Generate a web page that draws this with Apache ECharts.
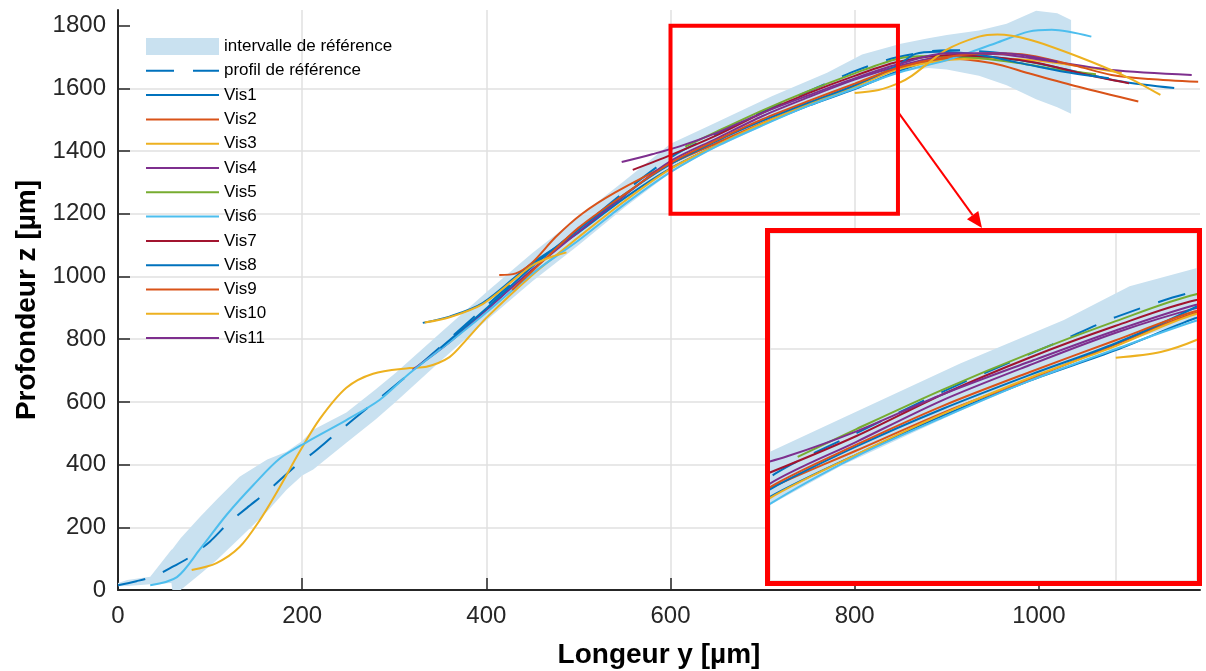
<!DOCTYPE html>
<html>
<head>
<meta charset="utf-8">
<script src="https://cdn.jsdelivr.net/npm/echarts@6/dist/echarts.min.js"></script>
<style>
html, body { margin: 0; padding: 0; background: #fff; }
#chart { width: 1206px; height: 671px; }
</style>
</head>
<body>
<div id="chart"></div>
<script>
// bande de référence (y, borne basse, borne haute)
var bandY = [0, 10, 35, 58, 59, 68, 89, 107, 132, 162, 183, 200, 212, 248, 280, 302, 350, 400, 450, 500, 550, 600, 642, 710, 770, 808, 850, 880, 900, 935, 965, 997, 1020, 1035];
var bandLow = [12, 13, 18, 22, 0, 0, 50, 95, 165, 250, 320, 365, 384, 470, 545, 601, 730, 860, 985, 1100, 1220, 1331, 1400, 1493, 1570, 1615, 1655, 1665, 1660, 1640, 1610, 1565, 1540, 1519];
var bandHigh = [22, 32, 42, 128, 130, 165, 233, 288, 361, 416, 441, 475, 511, 566, 640, 694, 820, 950, 1075, 1190, 1305, 1423, 1481, 1575, 1650, 1708, 1742, 1760, 1770, 1785, 1806, 1848, 1840, 1818];

// profil de référence
var profY = [0, 20, 40, 60, 78, 100, 118, 140, 162, 192, 212, 234, 277, 314, 350, 414, 450, 500, 550, 603, 650, 710, 769, 800, 846, 900, 950, 1000, 1035];
var profZ = [15, 28, 45, 75, 105, 155, 208, 262, 314, 393, 438, 492, 595, 684, 775, 943, 1035, 1150, 1270, 1385, 1455, 1540, 1615, 1655, 1699, 1722, 1715, 1695, 1665];

// mesures Vis1..Vis11 : [y, z]
var vis1 = [[331, 852], [360, 872], [396, 915], [450, 1043], [500, 1140], [550, 1250], [600, 1345], [650, 1418], [700, 1485], [750, 1545], [800, 1598], [846, 1653], [880, 1685], [930, 1700], [980, 1690], [1030, 1660], [1090, 1622], [1147, 1601]];
var vis2 = [[414, 1005], [432, 1010], [450, 1045], [475, 1125], [504, 1200], [540, 1268], [600, 1360], [650, 1425], [700, 1490], [750, 1548], [800, 1608], [846, 1662], [900, 1695], [950, 1680], [989, 1648], [1043, 1605], [1108, 1558]];
var vis3 = [[80, 64], [107, 86], [132, 137], [154, 223], [176, 330], [197, 440], [219, 545], [248, 645], [277, 690], [317, 708], [335, 712], [360, 743], [378, 797], [400, 868], [450, 1005], [500, 1125], [550, 1240], [600, 1343], [650, 1418], [700, 1488], [750, 1550], [800, 1605], [846, 1660], [900, 1690], [950, 1695], [1000, 1688], [1050, 1668], [1090, 1650]];
var vis4 = [[320, 702], [360, 790], [400, 893], [450, 1022], [500, 1142], [550, 1258], [600, 1368], [650, 1440], [700, 1512], [750, 1572], [800, 1628], [846, 1670], [900, 1705], [950, 1710], [1007, 1690], [1079, 1659], [1166, 1643]];
var vis5 = [[616, 1414], [650, 1462], [700, 1530], [750, 1592], [800, 1648], [846, 1694], [880, 1703], [930, 1698], [980, 1680], [1020, 1660], [1062, 1645]];
var vis6 = [[35, 15], [64, 41], [89, 130], [118, 240], [147, 335], [176, 420], [205, 472], [248, 542], [284, 606], [317, 692], [360, 790], [400, 885], [450, 1010], [500, 1115], [550, 1230], [600, 1333], [650, 1415], [700, 1482], [750, 1545], [800, 1600], [850, 1652], [900, 1690], [953, 1744], [989, 1781], [1014, 1787], [1057, 1765]];
var vis7 = [[559, 1340], [600, 1387], [650, 1450], [700, 1522], [750, 1585], [800, 1640], [846, 1684], [900, 1706], [950, 1700], [1000, 1680], [1050, 1645], [1098, 1616]];
var vis8 = [[350, 772], [400, 898], [450, 1032], [500, 1150], [550, 1262], [600, 1358], [650, 1432], [700, 1497], [750, 1555], [800, 1610], [846, 1672], [866, 1710], [890, 1717], [935, 1707], [989, 1675], [1029, 1652], [1076, 1632]];
var vis9 = [[428, 957], [460, 1045], [500, 1155], [550, 1262], [600, 1362], [650, 1435], [700, 1502], [750, 1560], [800, 1615], [846, 1665], [900, 1700], [950, 1712], [989, 1706], [1040, 1672], [1079, 1643], [1120, 1630], [1173, 1621]];
var vis10 = [[333, 853], [360, 870], [396, 912], [430, 990], [450, 1035], [470, 1062], [487, 1077], [500, '-'], [800, 1585], [826, 1595], [847, 1616], [862, 1640], [899, 1722], [935, 1765], [955, 1772], [989, 1756], [1043, 1701], [1098, 1633], [1132, 1579]];
var vis11 = [[547, 1365], [580, 1390], [610, 1415], [650, 1458], [700, 1522], [750, 1578], [800, 1632], [846, 1676], [900, 1712], [960, 1712], [1020, 1685]];

var visNames = ['Vis1', 'Vis2', 'Vis3', 'Vis4', 'Vis5', 'Vis6', 'Vis7', 'Vis8', 'Vis9', 'Vis10', 'Vis11'];
var visData = [vis1, vis2, vis3, vis4, vis5, vis6, vis7, vis8, vis9, vis10, vis11];
var visColors = ['#0072BD', '#D95319', '#EDB120', '#7E2F8E', '#77AC30', '#4DBEEE', '#A2142F', '#0072BD', '#D95319', '#EDB120', '#7E2F8E'];

// zone agrandie
var zoomY = [600, 847];
var zoomZ = [1200, 1800];

var xTicks = [0, 200, 400, 600, 800, 1000];
var yTicks = [0, 200, 400, 600, 800, 1000, 1200, 1400, 1600, 1800];

var bandColor = '#c9e1f0';
var font = "'Liberation Sans', Arial, sans-serif";
var gridColor = '#e0e0e0';

// encart
var inset = { left: 770, top: 233, width: 427, height: 348 };

// polygone de la bande, dessiné une fois avec les échelles de la grille
function renderBand(params, api) {
    if (params.dataIndex !== 0) return null;
    var pts = [];
    var i;
    for (i = 0; i < bandY.length; i++) pts.push(api.coord([bandY[i], bandHigh[i]]));
    for (i = bandY.length - 1; i >= 0; i--) pts.push(api.coord([bandY[i], bandLow[i]]));
    var cs = params.coordSys;
    return {
        type: 'polygon',
        shape: { points: pts },
        style: { fill: bandColor },
        clipPath: { type: 'rect', shape: { x: cs.x, y: cs.y, width: cs.width, height: cs.height } }
    };
}

function buildSeries(g) {
    var zBase = g === 0 ? 2 : 12;
    var list = [];
    list.push({
        name: 'intervalle de référence', type: 'custom', xAxisIndex: g, yAxisIndex: g,
        data: bandY.map(function (y, i) { return [y, bandLow[i], bandHigh[i]]; }),
        encode: { x: 0, y: [1, 2] },
        renderItem: renderBand, silent: true,
        itemStyle: { color: bandColor }, z: zBase
    });
    list.push({
        name: 'profil de référence', type: 'line', xAxisIndex: g, yAxisIndex: g,
        data: profY.map(function (y, i) { return [y, profZ[i]]; }),
        symbol: 'none', smooth: 0.3, silent: true,
        itemStyle: { color: '#0072BD' },
        lineStyle: { color: '#0072BD', width: 2, type: [28, 19] }, z: zBase + 1
    });
    for (var k = 0; k < visNames.length; k++) {
        list.push({
            name: visNames[k], type: 'line', xAxisIndex: g, yAxisIndex: g,
            data: visData[k], symbol: 'none', smooth: 0.3, silent: true,
            itemStyle: { color: visColors[k] },
            lineStyle: { color: visColors[k], width: 2 }, z: zBase + 1
        });
    }
    return list;
}

var chart = echarts.init(document.getElementById('chart'));

var legendData = [{ name: 'intervalle de référence', icon: 'rect', itemStyle: { color: bandColor, opacity: 1 } },
    { name: 'profil de référence' }].concat(visNames.map(function (n) { return { name: n }; }));

function plain(v) { return String(v); }

chart.setOption({
    animation: false,
    backgroundColor: '#fff',
    legend: {
        data: legendData,
        orient: 'vertical',
        left: 145,
        top: 38,
        padding: 0,
        itemWidth: 73,
        itemHeight: 17,
        itemGap: 7.3,
        selectedMode: false,
        itemStyle: { opacity: 0 },
        textStyle: { fontSize: 17, color: '#000', fontFamily: font }
    },
    grid: [
        { left: 118, right: 6, top: 10, bottom: 81, outerBoundsMode: 'none' },
        { left: inset.left, top: inset.top, width: inset.width, height: inset.height, outerBoundsMode: 'none' }
    ],
    xAxis: [{
        type: 'value', gridIndex: 0, min: 0, max: 1175, interval: 200,
        name: 'Longeur y [µm]', nameLocation: 'middle', nameGap: 51,
        nameTextStyle: { fontSize: 28, fontWeight: 'bold', color: '#000', fontFamily: font },
        axisLine: { show: true, onZero: false, lineStyle: { color: '#262626', width: 2 } },
        axisTick: { inside: true, length: 12, customValues: xTicks, lineStyle: { color: '#262626', width: 1.5 } },
        axisLabel: { customValues: xTicks, formatter: plain, fontSize: 24, color: '#262626', margin: 14, fontFamily: font },
        splitLine: { show: true, showMaxLine: false, lineStyle: { color: gridColor, width: 1.5 } }
    }, {
        type: 'value', gridIndex: 1, min: zoomY[0], max: zoomY[1], interval: 200, z: 11,
        axisLine: { show: false }, axisTick: { show: false }, axisLabel: { show: false },
        splitLine: { show: true, lineStyle: { color: gridColor, width: 1.5 } }
    }],
    yAxis: [{
        type: 'value', gridIndex: 0, min: 0, max: 1850, interval: 200,
        name: 'Profondeur z [µm]', nameLocation: 'middle', nameGap: 68,
        nameTextStyle: { fontSize: 28, fontWeight: 'bold', color: '#000', fontFamily: font },
        axisLine: { show: true, onZero: false, lineStyle: { color: '#262626', width: 2 } },
        axisTick: { inside: true, length: 12, customValues: yTicks, lineStyle: { color: '#262626', width: 1.5 } },
        axisLabel: { customValues: yTicks, formatter: plain, fontSize: 24, color: '#262626', margin: 12, fontFamily: font },
        splitLine: { show: true, showMaxLine: false, lineStyle: { color: gridColor, width: 1.5 } }
    }, {
        type: 'value', gridIndex: 1, min: zoomZ[0], max: zoomZ[1], interval: 200, z: 11,
        axisLine: { show: false }, axisTick: { show: false }, axisLabel: { show: false },
        splitLine: { show: true, lineStyle: { color: gridColor, width: 1.5 } }
    }],
    series: buildSeries(0).concat(buildSeries(1))
});

// cadre de zoom, encart et flèche
var p1 = chart.convertToPixel({ gridIndex: 0 }, [zoomY[0], zoomZ[1]]);
var p2 = chart.convertToPixel({ gridIndex: 0 }, [zoomY[1], zoomZ[0]]);
var start = chart.convertToPixel({ gridIndex: 0 }, [zoomY[1], 1525]);
var tip = [982, inset.top - 5];
var dx = tip[0] - start[0], dy = tip[1] - start[1];
var len = Math.sqrt(dx * dx + dy * dy);
var ux = dx / len, uy = dy / len;
var base = [tip[0] - 16 * ux, tip[1] - 16 * uy];

chart.setOption({
    graphic: [
        { type: 'rect', z: 10, silent: true,
          shape: { x: inset.left, y: inset.top, width: inset.width, height: inset.height },
          style: { fill: '#fff' } },
        { type: 'rect', z: 30, silent: true,
          shape: { x: inset.left - 2.5, y: inset.top - 2.5, width: inset.width + 5, height: inset.height + 5 },
          style: { fill: null, stroke: '#ff0000', lineWidth: 5 } },
        { type: 'rect', z: 30, silent: true,
          shape: { x: p1[0], y: p1[1], width: p2[0] - p1[0], height: p2[1] - p1[1] },
          style: { fill: null, stroke: '#ff0000', lineWidth: 4 } },
        { type: 'line', z: 30, silent: true,
          shape: { x1: start[0], y1: start[1], x2: base[0], y2: base[1] },
          style: { stroke: '#ff0000', lineWidth: 2 } },
        { type: 'polygon', z: 30, silent: true,
          shape: { points: [tip, [base[0] - 7 * uy, base[1] + 7 * ux], [base[0] + 7 * uy, base[1] - 7 * ux]] },
          style: { fill: '#ff0000' } }
    ]
});
</script>
</body>
</html>
